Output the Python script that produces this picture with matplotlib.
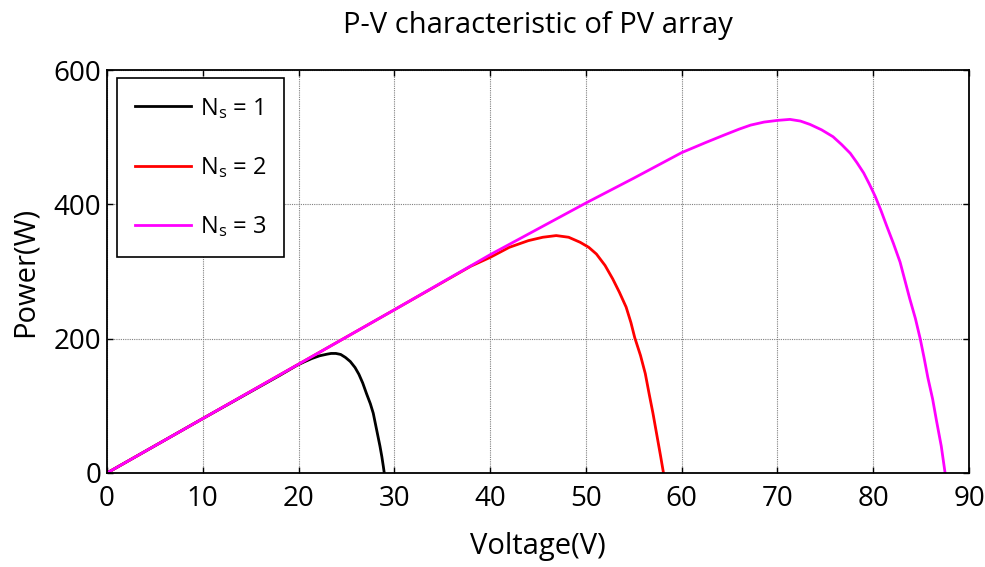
import numpy as np
import matplotlib
matplotlib.use("Agg")
import matplotlib.pyplot as plt

plt.rcParams['font.family'] = ['Open Sans', 'DejaVu Sans']
plt.rcParams['mathtext.fontset'] = 'custom'
plt.rcParams['mathtext.rm'] = 'Open Sans'
plt.rcParams['mathtext.it'] = 'Open Sans'

# values (voltage in V, power in W)
v_ns1 = [0, 5, 10, 15, 18, 19.8, 20.6, 21.4, 22.2, 23.0, 23.4, 23.9, 24.4, 24.9, 25.4, 25.9,
         26.3, 26.7, 27.1, 27.5, 27.8, 28.1, 28.3, 28.5, 28.7, 28.85, 28.95]
p_ns1 = [0, 40.5, 81, 121, 145, 160, 165.5, 170.5, 174.5, 177, 178, 178, 176.5, 172, 166, 157,
         147, 134, 118, 103, 89, 68, 54, 40, 24, 10, 0]

v_ns2 = [0, 10, 20, 30, 38, 40, 42, 44, 45.5, 46.9, 48.2, 49.4, 50.3, 51.1, 52.0, 52.8, 53.5,
         54.2, 54.7, 55.1, 55.7, 56.2, 56.6, 57.0, 57.4, 57.8, 58.1]
p_ns2 = [0, 81, 162, 243, 308, 321, 336, 346, 351, 353.5, 351, 343.5, 336, 326, 309, 289, 269,
         247, 224, 201.5, 175, 148, 118, 89, 57, 25, 0]

v_ns3 = [0, 10, 20, 30, 40, 50, 55, 60, 62.5, 64.4, 66, 67.2, 68.6, 70, 71.3, 72.4, 73.4, 74.6,
         75.8, 76.7, 77.6, 78.3, 79.0, 79.6, 80.2, 80.8, 81.4, 82.1, 82.8, 83.3, 83.8, 84.4,
         84.9, 85.3, 85.7, 86.2, 86.6, 87.1, 87.5]
p_ns3 = [0, 81, 162, 243, 325, 402, 439, 477, 492, 503, 512, 518, 522.5, 525, 526.5, 524, 519, 511,
         500.7, 489, 476, 462, 446.7, 430, 412, 391, 368, 342, 314, 287, 260, 230,
         200, 172, 142, 110, 78, 40, 0]

labels = [r'N$_\mathrm{s}$ = 1', r'N$_\mathrm{s}$ = 2', r'N$_\mathrm{s}$ = 3']
colors = ['black', 'red', 'magenta']

fig = plt.figure(figsize=(9.85, 5.67), dpi=100)
ax = fig.add_axes([0.1086, 0.1658, 0.8752, 0.7107])

for v, p, lab, c in zip([v_ns1, v_ns2, v_ns3], [p_ns1, p_ns2, p_ns3], labels, colors):
    ax.plot(v, p, color=c, linewidth=2, label=lab)

ax.set_xlim(0, 90)
ax.set_ylim(0, 600)
ax.set_xticks(np.arange(0, 91, 10))
ax.set_yticks([0, 200, 400, 600])
ax.grid(True, color='#808080', linestyle=(0, (1, 1)), linewidth=0.8)
ax.tick_params(direction='in', top=True, right=True, labelsize=20, length=4, width=1)
ax.tick_params(axis='x', pad=9)
ax.tick_params(axis='y', pad=4)
for s in ax.spines.values():
    s.set_linewidth(1.3)

ax.set_title('P-V characteristic of PV array', fontsize=21, pad=27)
ax.set_xlabel('Voltage(V)', fontsize=21, labelpad=13)
ax.set_ylabel('Power(W)', fontsize=21, labelpad=10)

leg = ax.legend(loc='upper left', fontsize=17, handlelength=2.4, handletextpad=0.35,
                labelspacing=1.45, fancybox=False, framealpha=1, edgecolor='black',
                borderpad=0.75, borderaxespad=0, bbox_to_anchor=(0.0116, 0.980))
leg.get_frame().set_linewidth(1.2)

fig.savefig('out.png', dpi=100)
